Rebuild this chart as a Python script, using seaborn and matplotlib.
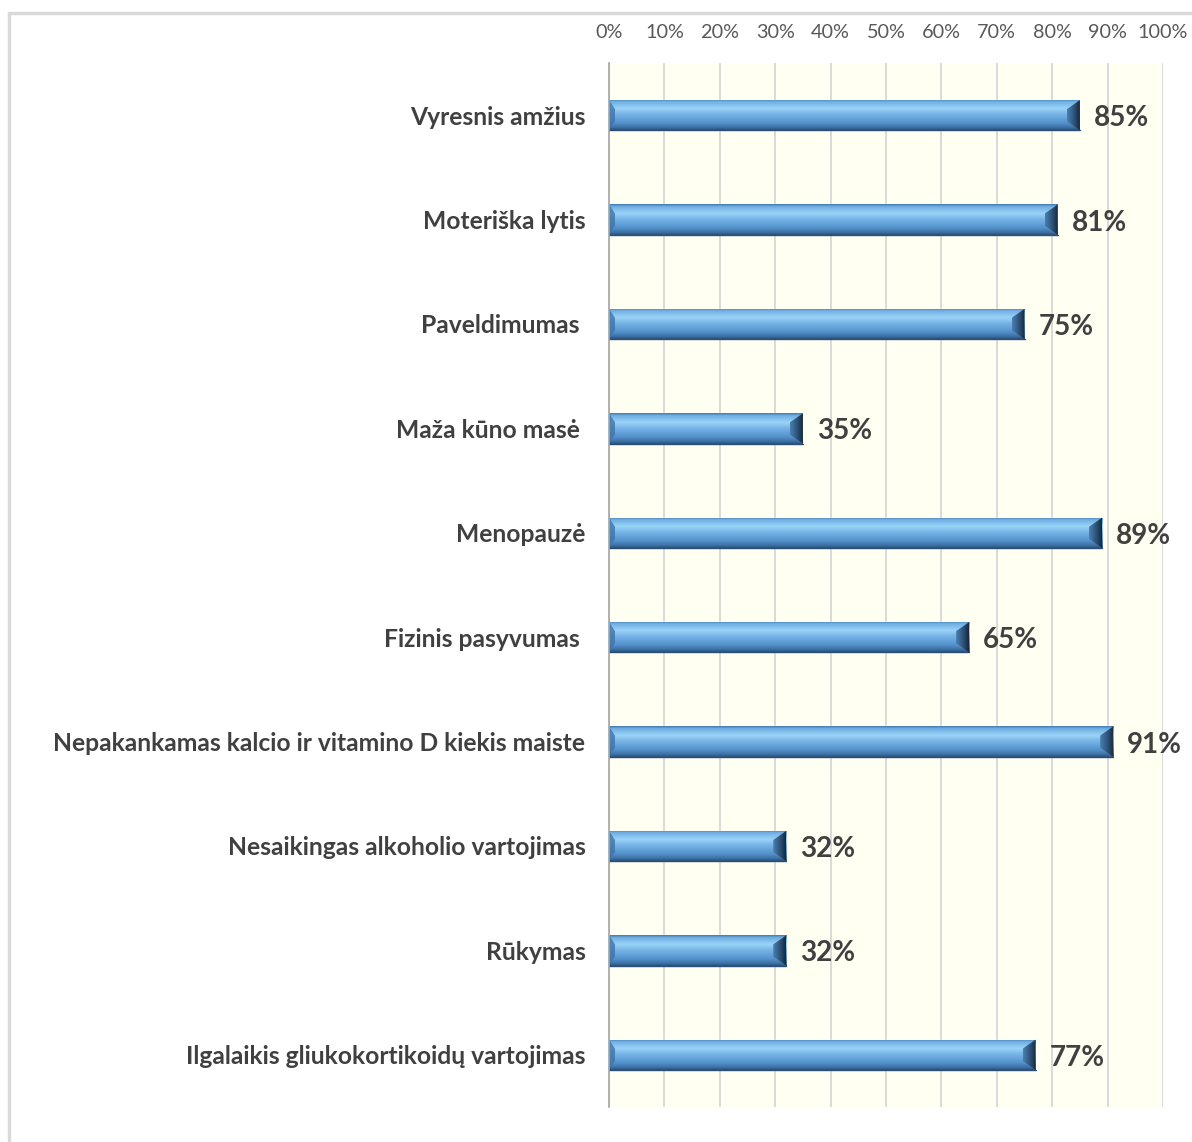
import numpy as np
import pandas as pd
import matplotlib
matplotlib.use("Agg")
import matplotlib.pyplot as plt
from matplotlib.colors import LinearSegmentedColormap
from matplotlib.patches import Polygon
from matplotlib.lines import Line2D
from matplotlib.textpath import TextPath
from matplotlib.font_manager import FontProperties
from matplotlib.transforms import offset_copy
import seaborn as sns

categories = [
    "Vyresnis amžius",
    "Moteriška lytis",
    "Paveldimumas ",
    "Maža kūno masė ",
    "Menopauzė",
    "Fizinis pasyvumas ",
    "Nepakankamas kalcio ir vitamino D kiekis maiste",
    "Nesaikingas alkoholio vartojimas",
    "Rūkymas",
    "Ilgalaikis gliukokortikoidų vartojimas",
]
values = [85, 81, 75, 35, 89, 65, 91, 32, 32, 77]
tick_values = [0, 10, 20, 30, 40, 50, 60, 70, 80, 90, 100]
tick_labels = [f"{t}%" for t in tick_values]

sns.set_theme(style="white")
FONT = ["Lato", "DejaVu Sans"]
plt.rcParams["font.family"] = FONT

df = pd.DataFrame({"factor": categories, "share": values})

W, H, DPI = 1192, 1142, 100


def fit_size(text, width_px, weight):
    """Font size (pt) at which `text` spans roughly width_px pixels."""
    fp = FontProperties(family=FONT, weight=weight, size=10)
    tp = TextPath((0, 0), text, prop=fp)
    w = tp.get_extents().width  # in points at size 10
    return 10 * (width_px * 72 / DPI) / w


label_size = fit_size("Nepakankamas kalcio ir vitamino D kiekis maiste", 530, "bold")
value_size = fit_size("85%", 53, "bold")
tick_size = fit_size("100%", 48, "normal")

fig = plt.figure(figsize=(W / DPI, H / DPI), dpi=DPI)
fig.patch.set_facecolor("white")
ax = fig.add_axes([609 / W, 1 - 1107 / H, (1163 - 609) / W, (1107 - 63) / H])
ax.set_facecolor("#FFFFF2")

sns.barplot(data=df, x="share", y="factor", orient="h", color="#5B9BD5",
            width=0.29, saturation=1, ax=ax, zorder=3)

ax.set_xlim(0, 100)
ax.set_ylim(len(categories) - 0.5, -0.5)
ax.set_xticks(tick_values)
ax.set_xticklabels(tick_labels)
ax.xaxis.tick_top()
ax.tick_params(axis="x", length=0, pad=16, labelsize=tick_size, labelcolor="#595959")
ax.tick_params(axis="y", length=0, pad=17, labelsize=label_size, labelcolor="#404040")
for lbl in ax.get_yticklabels():
    lbl.set_fontweight("bold")
ax.set_xlabel("")
ax.set_ylabel("")
ax.grid(axis="x", color="#D9D9D9", linewidth=1.4, zorder=0)
ax.set_axisbelow(True)
for side in ["top", "right", "bottom"]:
    ax.spines[side].set_visible(False)
ax.spines["left"].set_color("#A6A6A6")
ax.spines["left"].set_linewidth(1.2)
ax.spines["left"].set_zorder(6)

# Beveled blue fill for each bar
body_cmap = LinearSegmentedColormap.from_list(
    "body",
    [(0.0, "#3F78AE"), (0.08, "#6FAEE3"), (0.3, "#9AD3F7"), (0.5, "#74B2E6"),
     (0.78, "#5290CB"), (0.92, "#3C6FA2"), (1.0, "#2B5279")])
end_cmap = LinearSegmentedColormap.from_list(
    "end", [(0.0, "#4A80B3"), (0.6, "#2A4F74"), (1.0, "#16283A")])
grad_v = np.linspace(0, 1, 256).reshape(-1, 1)
grad_h = np.linspace(0, 1, 256).reshape(1, -1)

ax_px_w = ax.get_window_extent().width
bevel = 13 / ax_px_w * 100
left_bevel = 6 / ax_px_w * 100

for patch in list(ax.patches):
    x0, y0 = patch.get_x(), patch.get_y()
    w, h = patch.get_width(), patch.get_height()
    x1, y1 = x0 + w, y0 + h
    img = ax.imshow(grad_v, cmap=body_cmap, aspect="auto",
                    extent=[x0, x1, y1, y0], zorder=4, interpolation="bilinear")
    img.set_clip_path(patch)
    # right-end bevel
    right = Polygon([(x1, y0), (x1 - bevel, y0 + 0.3 * h), (x1 - bevel, y1 - 0.3 * h), (x1, y1)],
                    closed=True, facecolor="none", edgecolor="none", zorder=5)
    ax.add_patch(right)
    img_r = ax.imshow(grad_h, cmap=end_cmap, aspect="auto",
                      extent=[x1 - bevel, x1, y1, y0], zorder=5, interpolation="bilinear")
    img_r.set_clip_path(right)
    # left-end bevel
    left = Polygon([(x0, y0), (x0 + left_bevel, y0 + 0.3 * h), (x0 + left_bevel, y1 - 0.3 * h), (x0, y1)],
                   closed=True, facecolor="#3F73A6", edgecolor="none", alpha=0.8, zorder=5)
    ax.add_patch(left)
    ax.plot([x0, x1], [y1, y1], color="#2B4E72", linewidth=1.0, zorder=5)

ax.set_xlim(0, 100)
ax.set_ylim(len(categories) - 0.5, -0.5)

# Value labels at bar ends
offset = 14 / ax_px_w * 100
label_tr = offset_copy(ax.transData, fig=fig, x=0, y=-3, units="dots")
for i, v in enumerate(values):
    ax.text(v + offset, i, f"{v}%", va="center", ha="left", fontsize=value_size,
            fontweight="bold", color="#404040", zorder=6, transform=label_tr)

# Chart frame edges
fig.add_artist(Line2D([9 / W, 1], [1 - 13 / H, 1 - 13 / H], transform=fig.transFigure,
                      color="#D9D9D9", linewidth=2.5))
fig.add_artist(Line2D([9 / W, 9 / W], [0, 1 - 13 / H], transform=fig.transFigure,
                      color="#D9D9D9", linewidth=2.5))

fig.savefig("out.png", dpi=DPI, facecolor="white")
